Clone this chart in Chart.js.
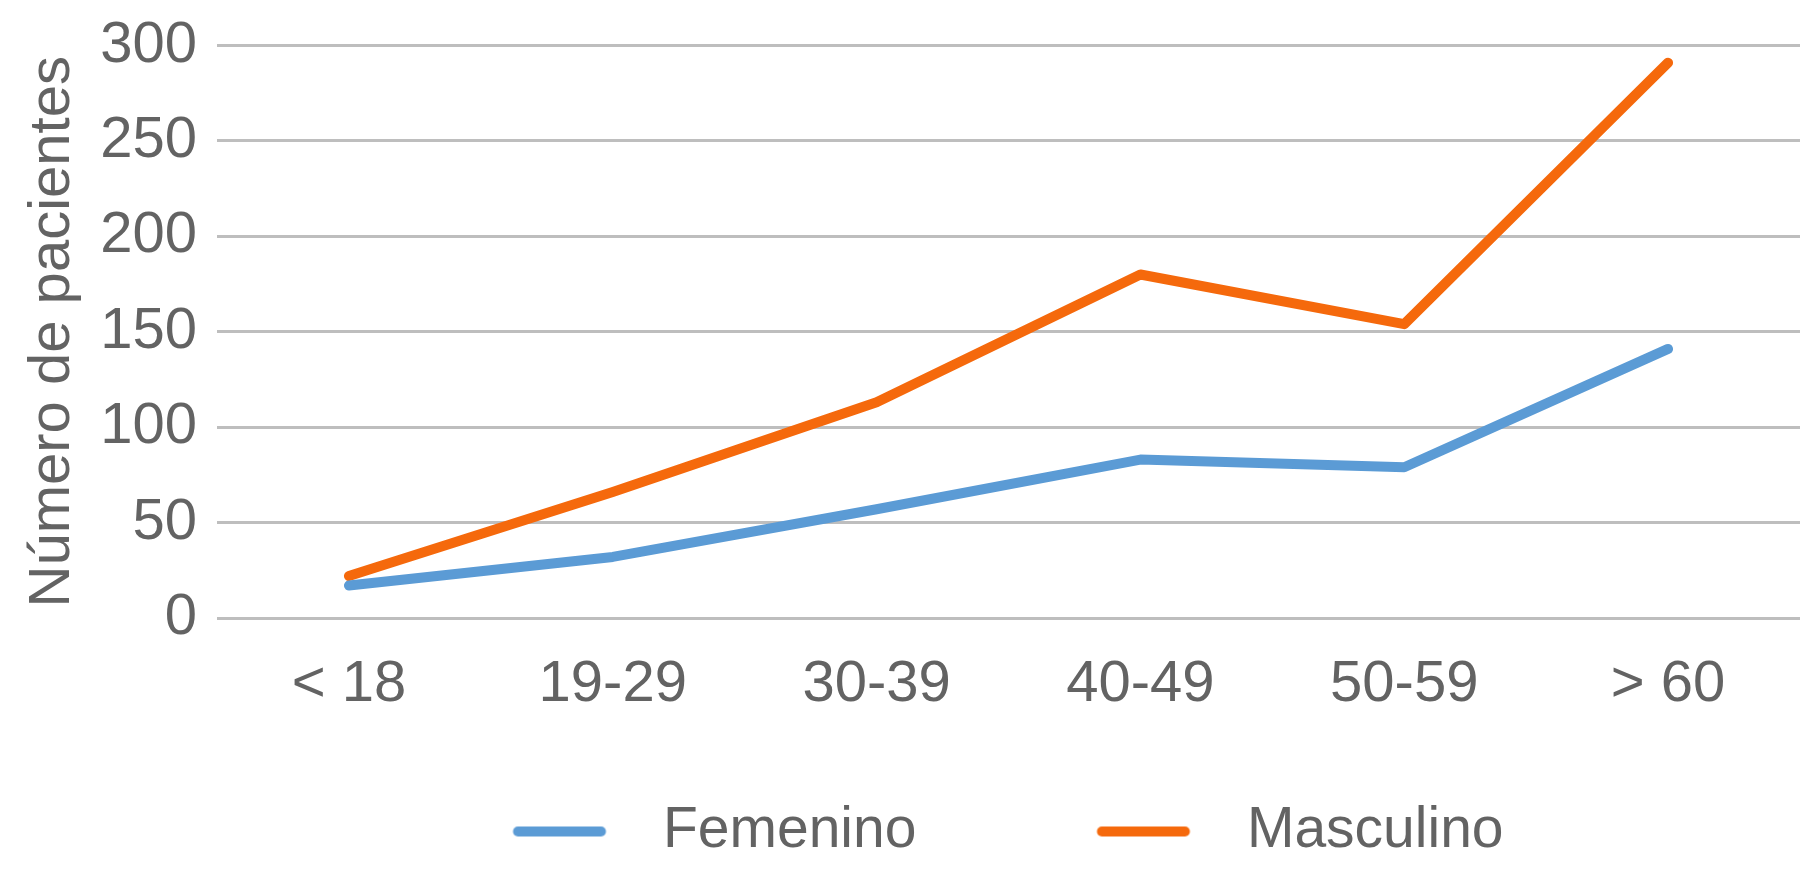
<!DOCTYPE html>
<html>
<head>
<meta charset="utf-8">
<script src="https://cdn.jsdelivr.net/npm/chart.js@4"></script>
<style>
  html, body { margin: 0; padding: 0; background: #ffffff; }
  #wrap { width: 1800px; height: 879px; }
</style>
</head>
<body>
<div id="wrap"><canvas id="c" width="1800" height="879"></canvas></div>
<script>
// ---- data ----
const categories = ['< 18', '19-29', '30-39', '40-49', '50-59', '> 60'];
const femenino = [17, 32, 57, 83, 79, 141];
const masculino = [22, 66, 113, 180, 154, 291];
const seriesNames = ['Femenino', 'Masculino'];
const yMin = 0;
const yMax = 300;
const yStep = 50;
const yTitle = 'Número de pacientes';

// ---- style ----
const FONT = "'Liberation Sans Narrow', 'Arial Narrow', 'Liberation Sans', Arial, sans-serif";
const TEXT = '#636363';
const BLUE = '#5B9BD5';
const ORANGE = '#F5690C';
const GRID = '#BEBEBE';
const FS = 58;
const LFS = 57;

// legend swatch: a short thick line inside a wider transparent box
function legendLine(color) {
  const c = document.createElement('canvas');
  c.width = 292; c.height = 12;
  const g = c.getContext('2d');
  g.strokeStyle = color;
  g.lineWidth = 10;
  g.lineCap = 'round';
  g.beginPath();
  g.moveTo(175.5, 6);
  g.lineTo(258.5, 6);
  g.stroke();
  return c;
}

const ctx = document.getElementById('c').getContext('2d');
new Chart(ctx, {
  type: 'line',
  data: {
    labels: categories,
    datasets: [
      { label: seriesNames[0], data: femenino, borderColor: BLUE, backgroundColor: BLUE,
        borderWidth: 10, pointRadius: 0, tension: 0, borderCapStyle: 'round', borderJoinStyle: 'round', fill: false },
      { label: seriesNames[1], data: masculino, borderColor: ORANGE, backgroundColor: ORANGE,
        borderWidth: 10, pointRadius: 0, tension: 0, borderCapStyle: 'round', borderJoinStyle: 'round', fill: false }
    ]
  },
  options: {
    responsive: false,
    animation: false,
    devicePixelRatio: 1,
    layout: { padding: { top: 45.5, left: 46, right: 0, bottom: 9 } },
    plugins: {
      tooltip: { enabled: false },
      legend: {
        position: 'bottom',
        labels: {
          color: TEXT,
          font: { family: FONT, size: LFS },
          padding: 10,
          usePointStyle: true,
          pointStyleWidth: 292,
          generateLabels: (chart) => chart.data.datasets.map((ds, i) => ({
            text: ds.label,
            fillStyle: ds.borderColor,
            strokeStyle: ds.borderColor,
            lineWidth: 0,
            pointStyle: legendLine(ds.borderColor),
            hidden: false,
            datasetIndex: i,
            fontColor: TEXT
          }))
        }
      }
    },
    scales: {
      x: {
        offset: true,
        grid: { display: false, drawTicks: false },
        border: { display: false },
        ticks: { color: TEXT, font: { family: FONT, size: FS }, padding: 32, maxRotation: 0, autoSkip: false },
        afterFit: (s) => { s.height = 175; s.paddingLeft = 0; s.paddingRight = 0; }
      },
      y: {
        min: yMin,
        max: yMax,
        grid: { color: GRID, lineWidth: 3, drawTicks: false },
        border: { display: false },
        ticks: { stepSize: yStep, color: TEXT, font: { family: FONT, size: FS }, padding: 20 },
        title: { display: true, text: yTitle, color: TEXT, font: { family: FONT, size: 58, lineHeight: '14px' }, padding: 0 },
        afterFit: (s) => { s.width = 171; s.paddingTop = 0; s.paddingBottom = 0; }
      }
    }
  }
});
</script>
</body>
</html>
